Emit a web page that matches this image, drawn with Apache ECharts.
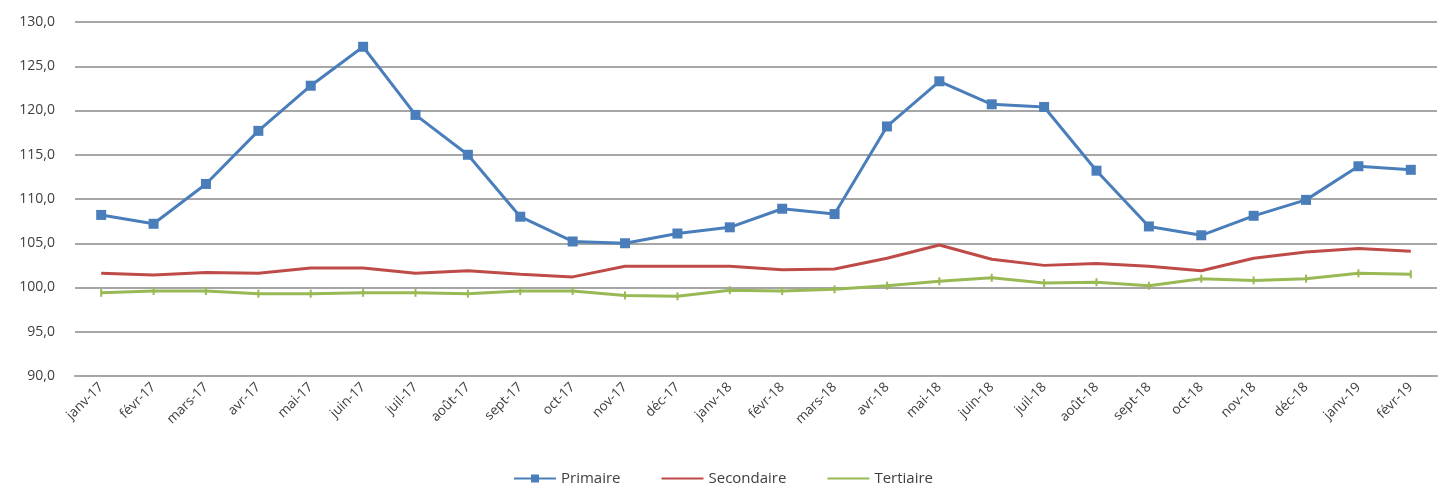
<!DOCTYPE html>
<html>
<head>
<meta charset="utf-8">
<script src="https://cdn.jsdelivr.net/npm/echarts@6/dist/echarts.min.js"></script>
<style>html,body{margin:0;padding:0;background:#fff}#c{width:1446px;height:499px}</style>
</head>
<body>
<div id="c"></div>
<script>
const categories = ["janv-17","févr-17","mars-17","avr-17","mai-17","juin-17","juil-17","août-17","sept-17","oct-17","nov-17","déc-17","janv-18","févr-18","mars-18","avr-18","mai-18","juin-18","juil-18","août-18","sept-18","oct-18","nov-18","déc-18","janv-19","févr-19"];
const primaire = [108.2,107.2,111.7,117.7,122.8,127.2,119.5,115.0,108.0,105.2,105.0,106.1,106.8,108.9,108.3,118.2,123.3,120.7,120.4,113.2,106.9,105.9,108.1,109.9,113.7,113.3];
const secondaire = [101.6,101.4,101.7,101.6,102.2,102.2,101.6,101.9,101.5,101.2,102.4,102.4,102.4,102.0,102.1,103.3,104.8,103.2,102.5,102.7,102.4,101.9,103.3,104.0,104.4,104.1];
const tertiaire = [99.4,99.6,99.6,99.3,99.3,99.4,99.4,99.3,99.6,99.6,99.1,99.0,99.7,99.6,99.8,100.2,100.7,101.1,100.5,100.6,100.2,101.0,100.8,101.0,101.6,101.5];
const seriesNames = ["Primaire","Secondaire","Tertiaire"];

const chart = echarts.init(document.getElementById('c'));
const font = "Open Sans";
chart.setOption({
  animation: false,
  textStyle: {fontFamily: font},
  grid: {left: 75, right: 9, top: 22, bottom: 123},
  legend: {
    bottom: 8, left: 'center', itemWidth: 42, itemHeight: 10, itemGap: 40,
    textStyle: {fontFamily: font, fontSize: 15, color: '#404040'},
    data: [
      {name: seriesNames[0]},
      {name: seriesNames[1], itemStyle: {opacity: 0}},
      {name: seriesNames[2], itemStyle: {opacity: 0}}
    ]
  },
  xAxis: {
    type: 'category', data: categories, boundaryGap: true,
    axisLine: {show: true, lineStyle: {color: '#a6a6a6', width: 2}},
    axisTick: {show: false},
    axisLabel: {rotate: 45, fontFamily: font, fontSize: 13.5, color: '#404040', margin: 9, interval: 0}
  },
  yAxis: {
    type: 'value', min: 90, max: 130, interval: 5,
    axisLine: {show: false}, axisTick: {show: false},
    axisLabel: {fontFamily: font, fontSize: 14, color: '#404040', margin: 20,
      formatter: v => v.toFixed(1).replace('.', ',')},
    splitLine: {lineStyle: {color: '#a6a6a6', width: 2}}
  },
  series: [
    {name: seriesNames[0], type: 'line', data: primaire, symbol: 'rect', symbolSize: 10,
      lineStyle: {color: '#4A7EBB', width: 3}, itemStyle: {color: '#4A7EBB'}},
    {name: seriesNames[1], type: 'line', data: secondaire, symbol: 'none',
      lineStyle: {color: '#BE4B48', width: 3}, itemStyle: {color: '#BE4B48'}},
    {name: seriesNames[2], type: 'line', data: tertiaire, symbol: 'rect', symbolSize: [2, 8],
      lineStyle: {color: '#98B954', width: 3}, itemStyle: {color: '#98B954'}}
  ]
});
</script>
</body>
</html>
